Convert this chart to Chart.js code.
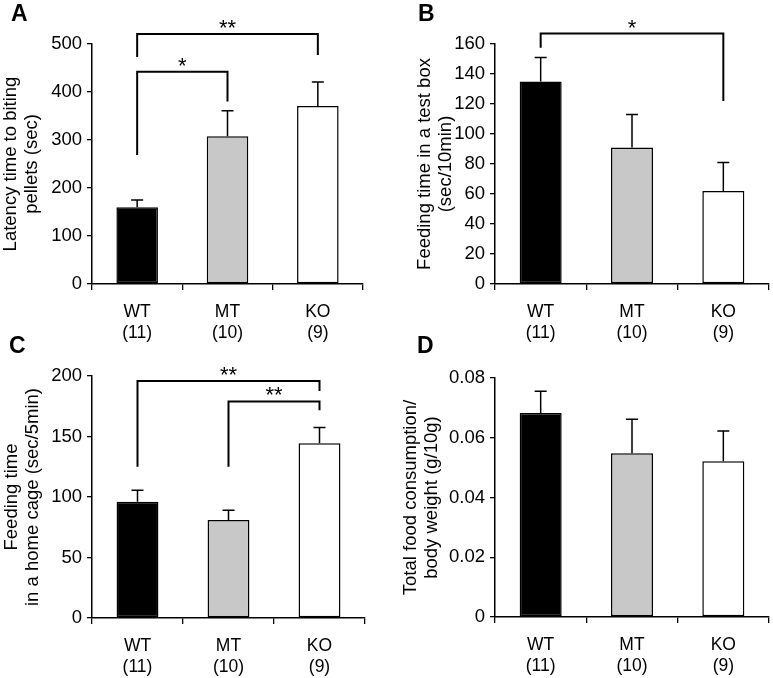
<!DOCTYPE html>
<html>
<head>
<meta charset="utf-8">
<title>Feeding behaviour: WT / MT / KO</title>
<script src="https://cdn.jsdelivr.net/npm/chart.js@4.4.0/dist/chart.umd.min.js"></script>
<style>
    body { margin: 0; background: #ffffff; }
    #wrap { position: relative; width: 773px; height: 678px; overflow: hidden; background: #ffffff; }
    #wrap canvas { position: absolute; }
    .panel-label {
        position: absolute;
        font: bold 23px 'Liberation Sans', Arial, sans-serif;
        color: #000000;
        line-height: 1;
    }
</style>
</head>
<body>
<div id="wrap">
    <canvas id="chartA" width="386" height="345" style="left:0;top:0"></canvas>
    <canvas id="chartB" width="387" height="345" style="left:386px;top:0"></canvas>
    <canvas id="chartC" width="386" height="348" style="left:0;top:330px"></canvas>
    <canvas id="chartD" width="387" height="348" style="left:386px;top:330px"></canvas>
    <div class="panel-label" style="left:11px;top:2px">A</div>
    <div class="panel-label" style="left:418px;top:2px">B</div>
    <div class="panel-label" style="left:9px;top:334px">C</div>
    <div class="panel-label" style="left:417px;top:334px">D</div>
</div>
<script>
// ===== DATA =====
const groups = [['WT', '(11)'], ['MT', '(10)'], ['KO', '(9)']];
const barColors = ['#000000', '#c8c8c8', '#ffffff'];

// A - latency to biting pellets
const latencyMean = [160, 308, 371];
const latencyErr = [15, 53, 50];
const latencyTicks = [0, 100, 200, 300, 400, 500];
const latencySig = [
    { from: 0, to: 2, level: 521, legs: [473, 477], label: '**' },
    { from: 0, to: 1, level: 442, legs: [269, 380], label: '*' }
];

// B - feeding time in a test box
const testBoxMean = [135, 91, 62];
const testBoxErr = [16, 22, 19];
const testBoxTicks = [0, 20, 40, 60, 80, 100, 120, 140, 160];
const testBoxSig = [
    { from: 0, to: 2, level: 167, legs: [157.5, 122], label: '*' }
];

// C - feeding time in a home cage
const homeCageMean = [96, 81, 144.5];
const homeCageErr = [9.5, 8, 13];
const homeCageTicks = [0, 50, 100, 150, 200];
const homeCageSig = [
    { from: 0, to: 2, level: 195.8, legs: [125, 187.6], label: '**' },
    { from: 1, to: 2, level: 179, legs: [125, 171.7], label: '**' }
];

// D - total food consumption / body weight
const foodMean = [0.0683, 0.0548, 0.0521];
const foodErr = [0.0073, 0.0114, 0.0102];
const foodTicks = [0, 0.02, 0.04, 0.06, 0.08];
const foodSig = [];

const FONT = "'Liberation Sans', Arial, sans-serif";

// ===== PLUGIN: error bar (atas saja) =====
const errorBarPlugin = {
    id: 'errorBars',
    afterDatasetsDraw(chart, args, opts) {
        const ctx = chart.ctx;
        const yScale = chart.scales.y;
        const meta = chart.getDatasetMeta(0);
        const values = chart.data.datasets[0].data;
        ctx.save();
        ctx.strokeStyle = '#000';
        ctx.lineWidth = 1.5;
        meta.data.forEach((bar, i) => {
            const top = yScale.getPixelForValue(values[i] + opts.errors[i]);
            const base = yScale.getPixelForValue(values[i]);
            ctx.beginPath();
            ctx.moveTo(bar.x, base);
            ctx.lineTo(bar.x, top);
            ctx.moveTo(bar.x - 6, top);
            ctx.lineTo(bar.x + 6, top);
            ctx.stroke();
        });
        ctx.restore();
    }
};

// ===== PLUGIN: bracket signifikansi =====
const bracketPlugin = {
    id: 'brackets',
    afterDraw(chart, args, opts) {
        const ctx = chart.ctx;
        const yScale = chart.scales.y;
        const meta = chart.getDatasetMeta(0);
        ctx.save();
        ctx.strokeStyle = '#000';
        ctx.fillStyle = '#000';
        ctx.lineWidth = 2;
        ctx.font = '22px ' + FONT;
        ctx.textAlign = 'center';
        ctx.textBaseline = 'alphabetic';
        opts.items.forEach(b => {
            const x1 = meta.data[b.from].x;
            const x2 = meta.data[b.to].x;
            const y = yScale.getPixelForValue(b.level);
            ctx.beginPath();
            ctx.moveTo(x1, yScale.getPixelForValue(b.legs[0]));
            ctx.lineTo(x1, y);
            ctx.lineTo(x2, y);
            ctx.lineTo(x2, yScale.getPixelForValue(b.legs[1]));
            ctx.stroke();
            ctx.fillText(b.label, (x1 + x2) / 2, y + 1);
        });
        ctx.restore();
    }
};

// ===== BUAT PANEL =====
function makePanel(id, mean, err, ticks, sig, title, box) {
    const ctx = document.getElementById(id).getContext('2d');
    return new Chart(ctx, {
        type: 'bar',
        data: {
            labels: groups,
            datasets: [{
                data: mean,
                backgroundColor: barColors,
                borderColor: '#000',
                borderWidth: 1.5,
                borderSkipped: false,
                barPercentage: 0.46,
                categoryPercentage: 1
            }]
        },
        options: {
            responsive: false,
            animation: false,
            layout: { padding: { top: box.top, right: box.right, bottom: 0, left: 0 } },
            plugins: {
                legend: { display: false },
                tooltip: { enabled: false },
                errorBars: { errors: err },
                brackets: { items: sig }
            },
            scales: {
                x: {
                    offset: true,
                    grid: {
                        display: true,
                        offset: true,
                        drawOnChartArea: false,
                        drawTicks: true,
                        tickLength: 6,
                        color: '#000',
                        lineWidth: 1.3
                    },
                    border: { display: true, color: '#000', width: 1.5 },
                    ticks: {
                        color: '#000',
                        font: { family: FONT, size: 17.5, lineHeight: 1.22 },
                        padding: 11,
                        maxRotation: 0
                    },
                    afterFit: s => { s.height = box.xh; }
                },
                y: {
                    min: ticks[0],
                    max: ticks[ticks.length - 1],
                    grid: {
                        drawOnChartArea: false,
                        drawTicks: true,
                        tickLength: 5,
                        color: '#000',
                        lineWidth: 1.3
                    },
                    border: { display: true, color: '#000', width: 1.5 },
                    ticks: {
                        stepSize: ticks[1] - ticks[0],
                        color: '#000',
                        font: { family: FONT, size: 18.5 },
                        padding: 5
                    },
                    title: {
                        display: true,
                        text: title,
                        color: '#000',
                        font: { family: FONT, size: 18.5, lineHeight: 1.12 },
                        padding: { top: box.tp, bottom: 0 }
                    },
                    afterFit: s => { s.width = box.yw; }
                }
            }
        },
        plugins: [errorBarPlugin, bracketPlugin]
    });
}

document.addEventListener('DOMContentLoaded', function() {
    makePanel('chartA', latencyMean, latencyErr, latencyTicks, latencySig,
        ['Latency time to biting', 'pellets (sec)'],
        { top: 44, right: 23, xh: 61, yw: 92, tp: 1 });
    makePanel('chartB', testBoxMean, testBoxErr, testBoxTicks, testBoxSig,
        ['Feeding time in a test box', '(sec/10min)'],
        { top: 44, right: 4, xh: 61, yw: 109, tp: 29 });
    makePanel('chartC', homeCageMean, homeCageErr, homeCageTicks, homeCageSig,
        ['Feeding time', 'in a home cage (sec/5min)'],
        { top: 46, right: 21, xh: 60, yw: 92, tp: 2 });
    makePanel('chartD', foodMean, foodErr, foodTicks, foodSig,
        ['Total food consumption/', 'body weight (g/10g)'],
        { top: 48, right: 4, xh: 61, yw: 109, tp: 15 });
});
</script>
</body>
</html>
